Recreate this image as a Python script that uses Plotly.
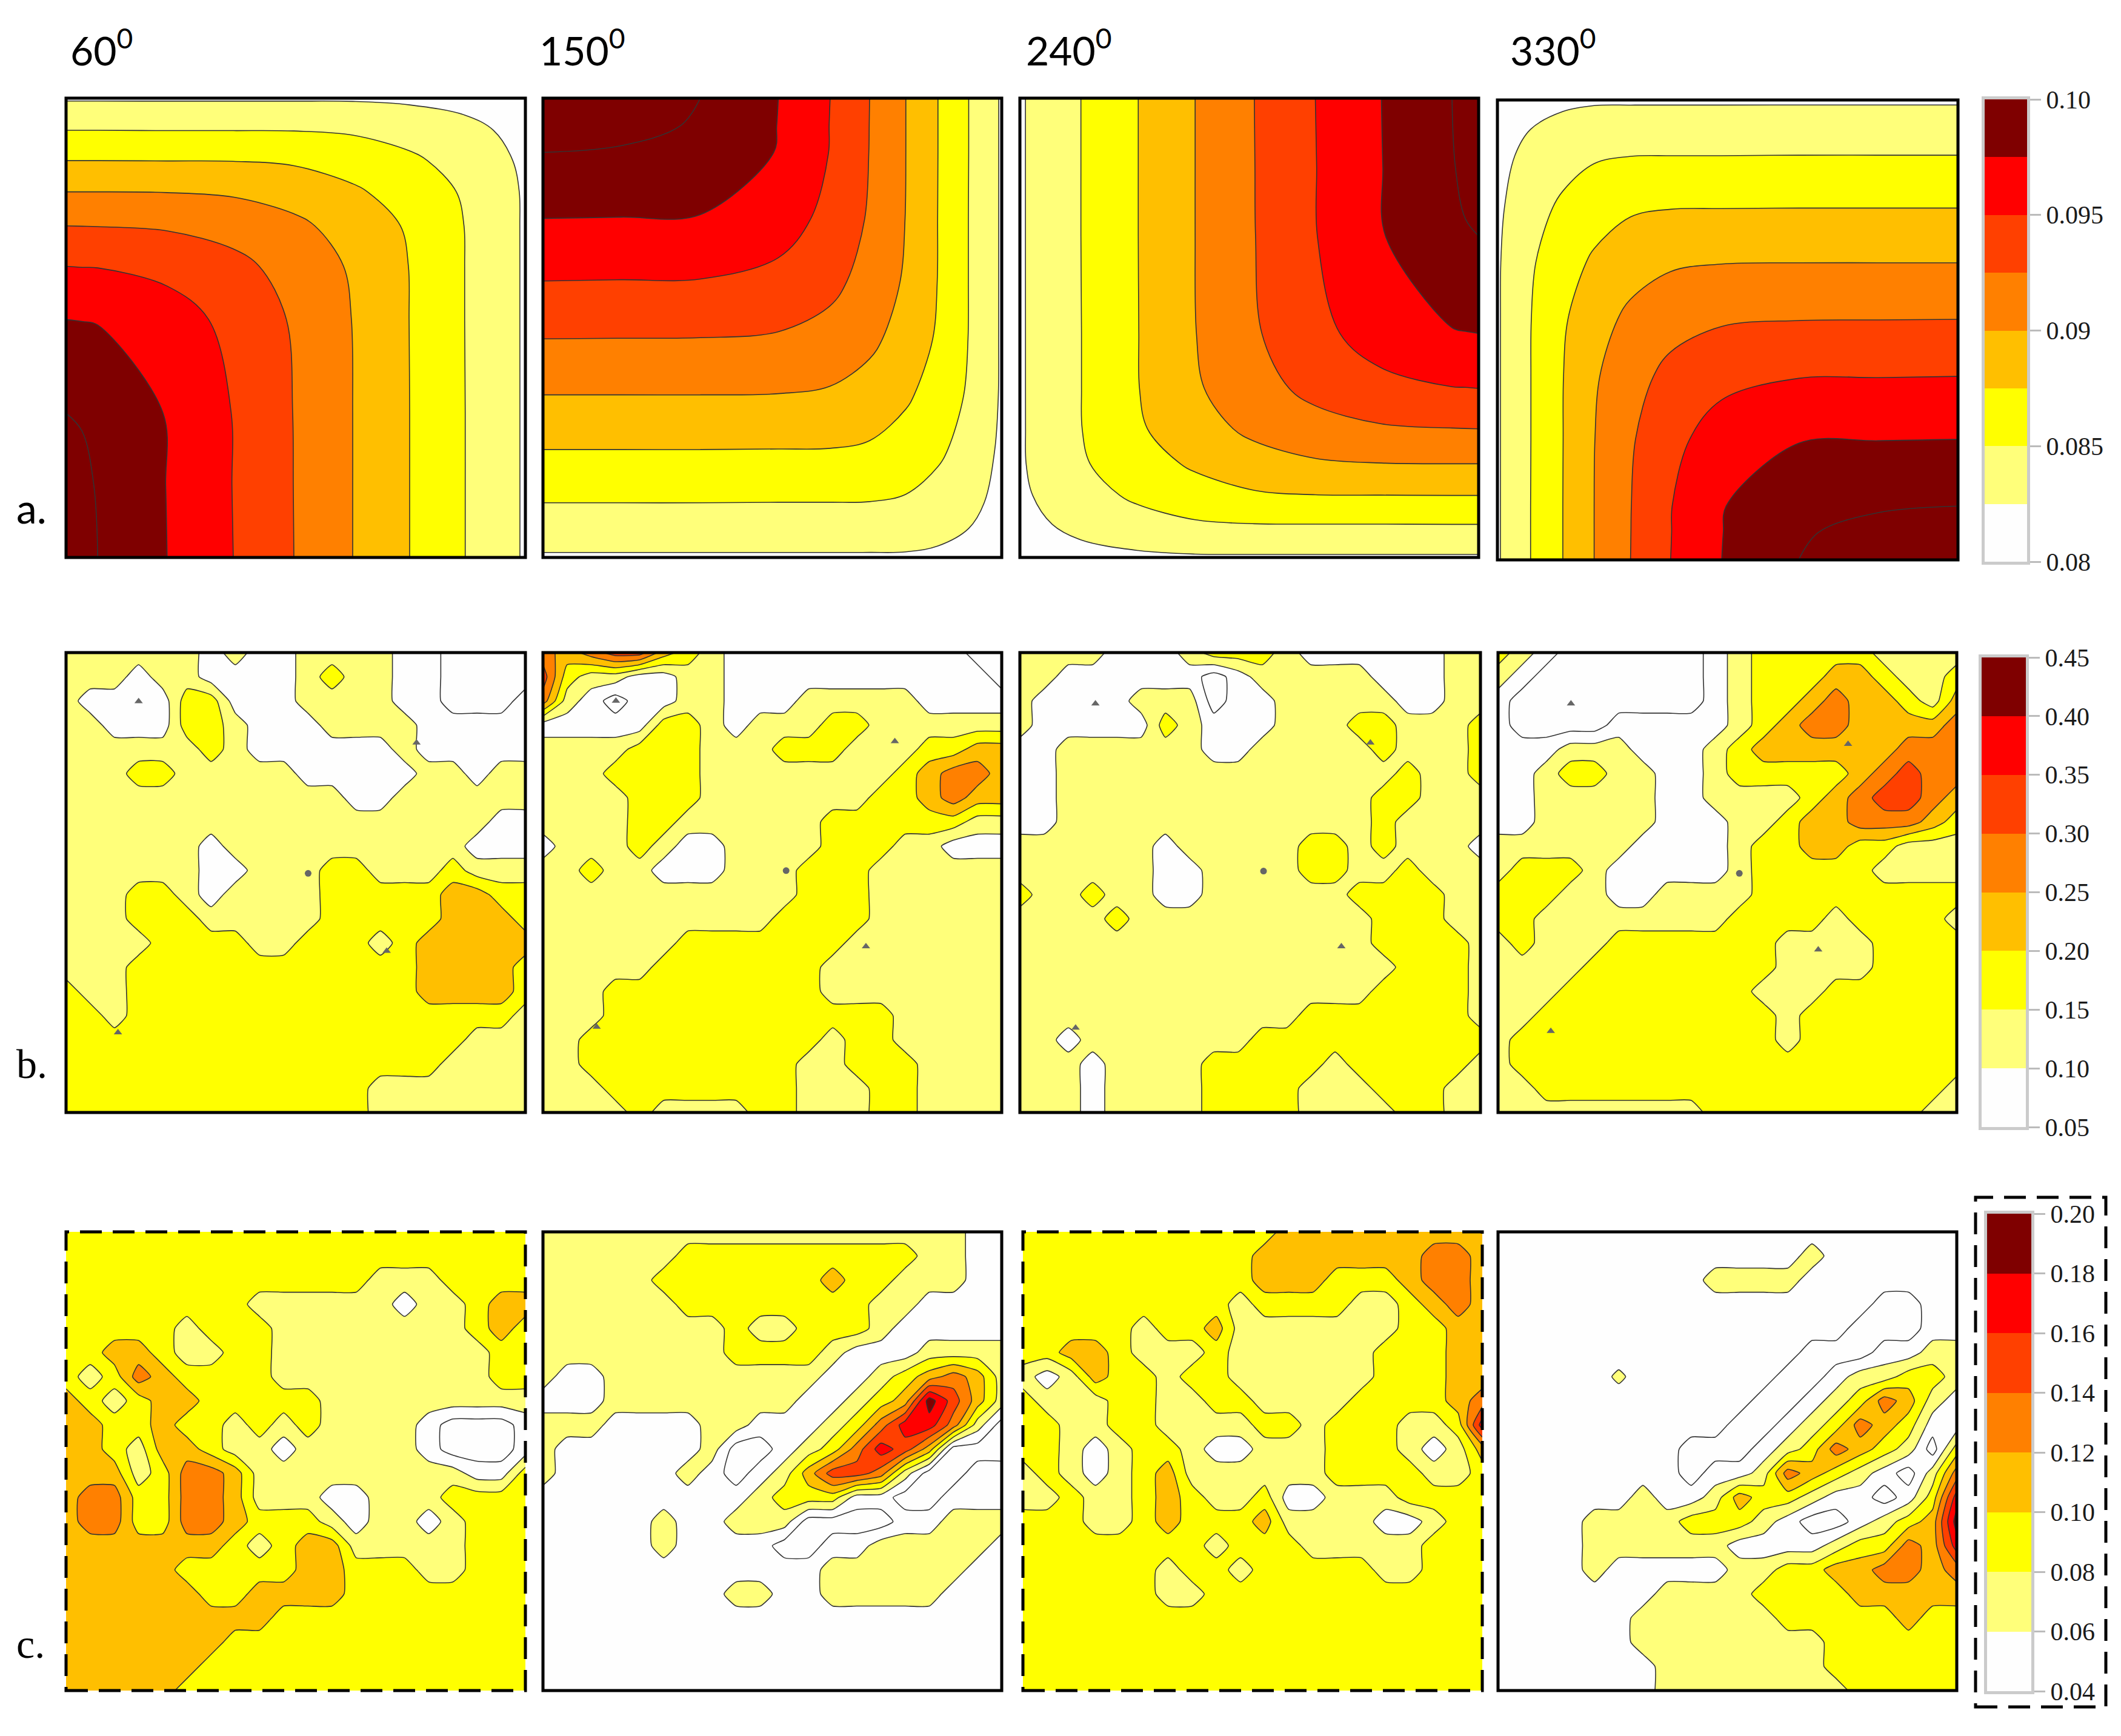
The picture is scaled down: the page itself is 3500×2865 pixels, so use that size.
import numpy as np
import plotly.graph_objects as go

WIDTH, HEIGHT = 3500, 2865

# filled bands, lowest to highest
BAND_COLORS = ["#FEFEFE", "#FFFF7A", "#FFFF00", "#FFBF00", "#FF8000", "#FF4000", "#FF0000", "#7F0000"]

HEADINGS = ["60<sup>0</sup>", "150<sup>0</sup>", "240<sup>0</sup>", "330<sup>0</sup>"]

# row a: level number reached, by distance from the hot corner (same family of curves in each panel)
a_surface = [
    [8.60, 8.30, 8.00, 7.00, 6.00, 5.00, 4.00, 3.00, 2.00, 0.90],
    [8.30, 8.15, 7.95, 6.98, 5.98, 4.99, 4.00, 3.00, 2.00, 0.90],
    [8.00, 7.95, 7.81, 6.95, 5.97, 4.98, 4.00, 3.00, 2.00, 0.90],
    [7.00, 6.98, 6.95, 6.49, 5.71, 4.90, 3.98, 2.99, 1.99, 0.90],
    [6.00, 5.98, 5.97, 5.71, 5.30, 4.60, 3.89, 2.98, 1.99, 0.90],
    [5.00, 4.99, 4.98, 4.90, 4.60, 4.21, 3.62, 2.88, 1.98, 0.90],
    [4.00, 4.00, 4.00, 3.98, 3.89, 3.62, 3.13, 2.63, 1.88, 0.90],
    [3.00, 3.00, 3.00, 2.99, 2.98, 2.88, 2.63, 2.17, 1.64, 0.83],
    [2.00, 2.00, 2.00, 1.99, 1.99, 1.98, 1.88, 1.64, 1.31, 0.65],
    [0.90, 0.90, 0.90, 0.90, 0.90, 0.90, 0.90, 0.83, 0.65, 0.20],
]
# where those levels sit in each panel (fraction across, fraction down)
a_60_x = [0, .035, .069, .22, .364, .496, .624, .748, .869, 1]
a_60_y = [1, .843, .686, .482, .366, .278, .204, .136, .07, 0]
a_150_x = [0, .17, .343, .513, .626, .712, .791, .861, .928, 1]
a_150_y = [0, .06, .118, .262, .398, .524, .646, .765, .881, 1]
a_240_x = [1, .971, .942, .788, .644, .511, .382, .258, .133, 0]
a_240_y = [0, .15, .30, .512, .632, .72, .796, .865, .928, 1]
a_330_x = [1, .827, .654, .487, .376, .289, .21, .142, .072, 0]
a_330_y = [1, .94, .883, .738, .601, .477, .354, .235, .12, 0]

# rows b and c: band at each grid node, 0 = below the lowest level
b_60 = [
    [2,2,2,2,2,2,1,2,1,1,2,2,2,2,1,1,0,0,0,0],
    [2,2,2,1,2,2,1,1,1,1,2,3,2,2,1,1,0,0,0,0],
    [2,1,1,1,1,3,3,1,1,1,2,2,2,2,1,1,0,0,0,1],
    [2,2,1,1,1,3,3,2,1,1,1,2,2,2,2,1,1,1,1,1],
    [2,2,2,2,2,2,3,2,1,1,1,1,1,1,2,1,1,1,1,1],
    [2,2,2,3,3,2,2,2,2,2,1,1,1,1,1,2,2,1,2,2],
    [2,2,2,2,2,2,2,2,2,2,2,2,1,1,2,2,2,2,2,2],
    [2,2,2,2,2,2,2,2,2,2,2,2,2,2,2,2,2,2,1,1],
    [2,2,2,2,2,2,1,2,2,2,2,2,2,2,2,2,2,1,1,1],
    [2,2,2,2,2,2,1,1,2,2,2,3,3,2,2,2,3,2,2,2],
    [2,2,2,3,3,2,1,2,2,2,2,3,3,3,3,3,4,4,3,3],
    [2,2,2,3,3,3,2,2,2,2,2,3,3,3,3,3,4,4,4,3],
    [2,2,2,2,3,3,3,3,2,2,3,3,3,2,3,4,4,4,4,4],
    [2,2,2,3,3,3,3,3,3,3,3,3,3,3,3,4,4,4,4,3],
    [3,2,2,3,3,3,3,3,3,3,3,3,3,3,3,4,4,4,4,3],
    [3,3,2,3,3,3,3,3,3,3,3,3,3,3,3,3,3,3,3,2],
    [3,3,3,3,3,3,3,3,3,3,3,3,3,3,3,3,3,2,2,2],
    [3,3,3,3,3,3,3,3,3,3,3,3,3,3,3,3,2,2,2,2],
    [3,3,3,3,3,3,3,3,3,3,3,3,3,2,2,2,2,2,2,2],
    [3,3,3,3,3,3,3,3,3,3,3,3,3,2,2,2,2,2,2,2],
]
b_150 = [
    [5,4,5,6,6,4,3,2,1,1,1,1,1,1,1,1,1,1,0,0],
    [6,3,2,2,1,1,2,2,1,1,1,1,1,1,1,1,1,1,1,0],
    [5,2,1,0,1,1,2,2,1,1,1,2,2,2,2,2,1,1,1,1],
    [1,1,1,1,1,3,3,2,1,2,2,2,3,3,2,2,2,2,2,2],
    [2,2,2,2,3,3,3,2,2,2,3,3,3,2,2,2,3,3,4,4],
    [2,2,2,3,3,3,3,2,2,2,2,2,2,2,2,3,4,5,5,4],
    [2,2,2,2,3,3,3,2,2,2,2,2,2,2,3,3,4,5,4,4],
    [2,2,2,2,3,3,2,2,2,2,2,2,3,3,3,3,3,3,2,2],
    [1,2,2,2,3,2,1,1,2,2,2,2,3,3,3,2,2,1,1,1],
    [2,2,3,2,2,1,1,1,2,2,2,3,3,3,2,2,2,2,2,2],
    [2,2,2,2,2,2,2,2,2,2,2,3,3,3,2,2,2,2,2,2],
    [2,2,2,2,2,2,2,2,2,2,3,3,3,3,2,2,2,2,2,2],
    [2,2,2,2,2,2,3,3,3,3,3,3,3,2,2,2,2,2,2,2],
    [2,2,2,2,2,3,3,3,3,3,3,3,2,2,2,2,2,2,2,2],
    [2,2,2,3,3,3,3,3,3,3,3,3,2,2,2,2,2,2,2,2],
    [2,2,2,3,3,3,3,3,3,3,3,3,3,3,3,2,2,2,2,2],
    [2,2,3,3,3,3,3,3,3,3,3,3,2,3,3,2,2,2,2,2],
    [2,2,3,3,3,3,3,3,3,3,3,2,2,3,3,3,2,2,2,2],
    [2,2,2,3,3,3,3,3,3,3,3,2,2,2,3,3,2,2,2,2],
    [2,2,2,2,3,2,2,2,2,3,3,2,2,2,3,3,2,2,2,2],
]
b_240 = [
    [2,2,2,2,1,1,1,2,3,3,3,2,1,1,1,1,1,1,2,2],
    [2,2,1,1,1,1,1,1,0,1,2,2,2,2,2,1,1,1,2,2],
    [2,1,1,1,1,2,2,2,0,1,1,2,2,2,2,2,1,1,2,2],
    [2,1,1,1,1,1,3,2,1,1,1,2,2,2,3,3,2,2,2,3],
    [1,1,2,2,2,2,2,2,1,1,2,2,2,2,2,3,2,2,2,3],
    [1,1,2,2,2,2,2,2,2,2,2,2,2,2,2,2,3,2,2,3],
    [1,1,2,2,2,2,2,2,2,2,2,2,2,2,2,3,3,2,2,2],
    [1,1,2,2,2,2,2,2,2,2,2,2,2,2,2,3,2,2,2,2],
    [2,2,2,2,2,2,1,2,2,2,2,2,3,3,2,3,2,2,2,1],
    [2,2,2,2,2,2,1,1,2,2,2,2,3,3,2,2,3,2,2,2],
    [3,2,2,3,2,2,1,1,2,2,2,2,2,2,3,3,3,3,2,2],
    [2,2,2,2,3,2,2,2,2,2,2,2,2,2,2,3,3,3,2,2],
    [2,2,2,2,2,2,2,2,2,2,2,2,2,2,2,3,3,3,3,2],
    [2,2,2,2,2,2,2,2,2,2,2,2,2,2,2,2,3,3,3,2],
    [2,2,2,2,2,2,2,2,2,2,2,2,2,2,2,3,3,3,3,2],
    [2,2,2,2,2,2,2,2,2,2,2,2,3,3,3,3,3,3,3,2],
    [2,2,1,2,2,2,2,2,2,2,3,3,3,3,3,3,3,3,3,3],
    [2,2,2,1,2,2,2,2,3,3,3,3,3,2,3,3,3,3,3,2],
    [2,2,2,1,2,2,2,2,3,3,3,3,2,2,2,3,3,3,2,2],
    [2,2,2,1,2,2,2,2,3,3,3,3,2,2,2,2,3,3,2,2],
]
b_330 = [
    [3,2,1,0,0,0,0,0,0,1,2,3,3,3,3,3,2,2,2,2],
    [2,1,0,0,0,0,0,0,0,1,2,3,3,3,4,4,3,2,2,3],
    [1,0,0,0,0,0,0,0,0,1,2,3,3,4,5,4,4,3,2,4],
    [1,0,0,0,0,1,1,1,1,1,2,3,4,5,5,4,4,4,4,5],
    [1,1,1,2,2,2,1,1,1,2,3,4,4,4,4,4,4,5,5,5],
    [1,1,2,3,3,2,2,1,1,2,3,3,3,3,3,4,5,6,5,5],
    [1,1,2,2,2,2,2,1,1,2,2,2,2,3,4,5,6,6,5,4],
    [1,1,2,2,2,2,2,1,1,1,2,2,3,4,4,5,5,5,4,3],
    [2,2,2,2,2,2,1,1,1,1,2,3,3,4,4,3,3,2,2,2],
    [2,3,3,3,2,1,1,1,1,1,2,3,3,3,3,3,2,2,2,2],
    [3,3,3,2,2,1,1,2,2,2,2,3,3,3,3,3,3,3,3,3],
    [3,3,2,2,2,2,2,2,2,2,3,3,3,3,2,3,3,3,3,2],
    [2,3,2,2,2,3,3,3,3,3,3,3,2,2,2,2,3,3,3,3],
    [2,2,2,2,3,3,3,3,3,3,3,3,2,2,2,2,3,3,3,3],
    [2,2,2,3,3,3,3,3,3,3,3,2,2,2,3,3,3,3,3,3],
    [2,2,3,3,3,3,3,3,3,3,3,3,2,3,3,3,3,3,3,3],
    [2,3,3,3,3,3,3,3,3,3,3,3,2,3,3,3,3,3,3,3],
    [2,3,3,3,3,3,3,3,3,3,3,3,3,3,3,3,3,3,3,3],
    [2,2,3,3,3,3,3,3,3,3,3,3,3,3,3,3,3,3,3,2],
    [2,2,2,2,2,2,2,2,2,3,3,3,3,3,3,3,3,3,2,2],
]
c_60 = [
    [3,3,3,3,3,3,3,3,3,3,3,3,3,3,3,3,3,3,3,3],
    [3,3,3,3,3,3,3,3,3,3,3,3,3,3,3,3,3,3,3,3],
    [3,3,3,3,3,3,3,3,3,3,3,3,3,2,2,2,3,3,3,3],
    [3,3,3,3,3,3,3,3,2,2,2,2,2,2,1,2,2,3,4,4],
    [3,3,3,3,3,2,3,3,3,2,2,2,2,2,2,2,2,3,4,3],
    [3,3,4,4,3,2,2,3,3,2,2,2,2,2,2,2,2,2,3,3],
    [3,2,3,5,4,3,3,3,3,2,2,2,2,2,2,2,2,2,3,3],
    [4,3,2,3,4,4,3,3,3,3,3,2,2,2,2,2,2,2,2,2],
    [4,4,3,3,4,3,3,2,3,2,3,2,2,2,2,1,0,0,0,1],
    [4,4,3,2,4,4,3,2,2,1,2,2,2,2,2,1,0,0,0,1],
    [4,4,4,2,3,5,5,4,2,2,2,2,2,2,2,2,2,1,1,3],
    [4,5,5,3,3,5,5,4,2,2,2,1,1,2,2,2,3,3,3,3],
    [4,5,5,3,3,5,5,4,3,3,3,2,1,2,2,1,2,3,3,3],
    [4,4,4,4,4,4,4,3,2,3,4,4,2,2,2,2,2,3,3,3],
    [4,4,4,4,4,3,3,3,3,3,4,4,3,3,3,2,2,3,3,3],
    [4,4,4,4,4,4,3,3,4,4,4,4,3,3,3,3,3,3,3,3],
    [4,4,4,4,4,4,4,4,4,3,3,3,3,3,3,3,3,3,3,3],
    [4,4,4,4,4,4,4,3,3,3,3,3,3,3,3,3,3,3,3,3],
    [4,4,4,4,4,4,3,3,3,3,3,3,3,3,3,3,3,3,3,3],
    [4,4,4,4,4,3,3,3,3,3,3,3,3,3,3,3,3,3,3,3],
]
c_150 = [
    [2,2,2,2,2,2,2,2,2,2,2,2,2,2,2,2,2,2,1,1],
    [2,2,2,2,2,2,3,3,3,3,3,3,3,3,3,3,2,2,1,1],
    [2,2,2,2,2,3,3,3,3,3,3,3,4,3,3,2,2,2,1,1],
    [2,2,2,2,2,2,3,3,3,3,3,3,3,3,2,2,1,1,1,1],
    [2,2,2,2,2,2,2,2,3,2,2,3,3,3,2,1,1,1,1,1],
    [2,2,2,2,2,2,2,2,3,3,3,3,2,1,1,1,2,2,2,2],
    [2,1,1,2,2,2,2,2,2,2,2,2,1,1,2,3,4,5,4,2],
    [1,1,1,2,2,2,2,2,2,2,2,1,1,2,3,4,8,6,4,2],
    [2,2,2,1,1,1,1,2,2,1,1,1,2,3,5,7,7,5,2,0],
    [2,1,1,1,1,1,1,2,0,0,1,2,3,5,7,6,4,0,0,0],
    [2,1,1,1,1,1,2,1,0,1,2,4,6,6,5,2,0,0,1,1],
    [1,1,1,1,1,1,1,1,1,2,3,3,3,1,1,0,0,1,1,1],
    [1,1,1,1,1,2,1,1,2,2,2,0,0,0,0,1,1,2,2,2],
    [1,1,1,1,1,2,1,1,1,1,0,0,1,1,2,2,2,2,2,1],
    [1,1,1,1,1,1,1,1,1,1,1,1,2,2,2,2,2,2,1,1],
    [1,1,1,1,1,1,1,1,2,2,1,1,2,2,2,2,2,1,1,1],
    [1,1,1,1,1,1,1,1,1,1,1,1,1,1,1,1,1,1,1,1],
    [1,1,1,1,1,1,1,1,1,1,1,1,1,1,1,1,1,1,1,1],
    [1,1,1,1,1,1,1,1,1,1,1,1,1,1,1,1,1,1,1,1],
    [1,1,1,1,1,1,1,1,1,1,1,1,1,1,1,1,1,1,1,1],
]
c_240 = [
    [3,3,3,3,3,3,3,3,3,3,3,4,4,4,4,4,4,4,4,4],
    [3,3,3,3,3,3,3,3,3,3,4,4,4,4,4,4,4,5,5,4],
    [3,3,3,3,3,3,3,3,3,3,4,4,4,3,3,3,4,5,5,4],
    [3,3,3,3,3,3,3,3,3,2,3,3,3,3,2,2,3,4,5,4],
    [3,3,3,3,3,2,3,3,4,2,2,2,2,2,2,2,3,3,4,4],
    [3,3,4,4,3,2,2,2,3,2,2,2,2,2,2,3,3,3,4,4],
    [2,1,2,4,3,3,2,3,3,2,2,2,2,2,2,3,3,3,4,4],
    [3,2,2,2,3,3,2,2,3,3,2,2,2,2,3,3,3,3,4,5],
    [3,3,2,2,3,3,2,2,2,2,3,3,2,3,3,3,2,2,3,7],
    [3,3,2,1,2,3,3,2,1,1,2,2,2,3,3,3,2,1,2,4],
    [2,3,2,1,2,3,4,2,2,2,2,2,2,3,3,3,3,2,2,3],
    [2,2,3,2,2,3,4,3,2,2,3,1,1,2,2,2,3,3,3,3],
    [3,3,3,2,2,3,4,3,3,3,4,2,2,2,2,1,1,2,3,3],
    [3,3,3,3,3,3,3,3,2,3,3,3,2,2,2,2,2,3,3,3],
    [3,3,3,3,3,3,2,3,3,2,3,3,3,3,3,2,2,3,3,3],
    [3,3,3,3,3,3,2,2,3,3,3,3,3,3,3,3,3,3,3,3],
    [3,3,3,3,3,3,3,3,3,3,3,3,3,3,3,3,3,3,3,3],
    [3,3,3,3,3,3,3,3,3,3,3,3,3,3,3,3,3,3,3,3],
    [3,3,3,3,3,3,3,3,3,3,3,3,3,3,3,3,3,3,3,3],
    [3,3,3,3,3,3,3,3,3,3,3,3,3,3,3,3,3,3,3,3],
]
c_330 = [
    [1,1,1,1,1,1,1,1,1,1,1,1,1,1,1,1,1,1,1,1],
    [1,1,1,1,1,1,1,1,1,1,1,1,1,2,1,1,1,1,1,1],
    [1,1,1,1,1,1,1,1,1,2,2,2,2,1,1,1,1,1,1,1],
    [1,1,1,1,1,1,1,1,1,1,1,1,1,1,1,1,0,0,1,1],
    [1,1,1,1,1,1,1,1,1,1,1,1,1,1,1,0,0,0,1,1],
    [1,1,1,1,1,1,1,1,1,1,1,1,1,0,0,0,1,1,2,2],
    [1,1,1,1,1,1.7,1,1,1,1,1,1,0,0,1,2,2,3,3,2],
    [1,1,1,1,1,1,1,1,1,1,1,0,0,1,2,3,5,4,2,1],
    [1,1,1,1,1,1,1,1,1,1,0,0,1,2,3,5,4,3,1,1],
    [1,1,1,1,1,1,1,1,0,0,0,1,2,3,5,4,3,2,0,3],
    [1,1,1,1,1,1,1,1,0,1,1,2,5,4,3,2,1,0,2,5],
    [1,1,1,1,1,1,2,1,1,2,4,3,3,2,1,1,0,1,3,7],
    [1,1,1,1,2,2,2,2,3,3,3,2,1,0,0,1,2,3,4,8],
    [1,1,1,1,2,2,2,2,2,2,1,1,1,1,2,3,3,5,4,7],
    [1,1,1,1,2,1,1,1,1,1,2,2,3,3,4,4,5,5,4,5],
    [1,1,1,1,1,1,1,2,2,2,2,3,3,3,3,4,4,4,4,4],
    [1,1,1,1,1,1,2,2,2,2,2,2,3,3,3,3,3,4,3,3],
    [1,1,1,1,1,1,2,2,2,2,2,2,2,2,3,3,3,3,3,3],
    [1,1,1,1,1,1,1,2,2,2,2,2,2,2,3,3,3,3,3,3],
    [1,1,1,1,1,1,1,2,2,2,2,2,2,2,2,3,3,3,3,3],
]

# station markers in row b, fraction across / down
b_tri_x = [[.158, .763, .698, .113], [.159, .767, .704, .117], [.164, .761, .698, .121], [.159, .763, .698, .115]]
b_tri_y = [[.106, .196, .649, .826], [.105, .193, .639, .814], [.111, .196, .639, .816], [.111, .199, .646, .823]]
b_dot_x = [.527, .53, .529, .526]
b_dot_y = [.48, .474, .475, .48]

a_start, a_end, a_step = 0.08, 0.10, 0.0025
b_start, b_end, b_step = 0.05, 0.45, 0.05
c_start, c_end, c_step = 0.04, 0.20, 0.02

a_ticks = [0.08, 0.085, 0.09, 0.095, 0.10]
a_ticktext = ["0.08", "0.085", "0.09", "0.095", "0.10"]
b_ticks = [0.05, 0.10, 0.15, 0.20, 0.25, 0.30, 0.35, 0.40, 0.45]
b_ticktext = ["0.05", "0.10", "0.15", "0.20", "0.25", "0.30", "0.35", "0.40", "0.45"]
c_ticks = [0.04, 0.06, 0.08, 0.10, 0.12, 0.14, 0.16, 0.18, 0.20]
c_ticktext = ["0.04", "0.06", "0.08", "0.10", "0.12", "0.14", "0.16", "0.18", "0.20"]

# frames in pixels: left, top, right, bottom
a_boxes = [(109, 162, 867, 920), (896, 162, 1653, 920), (1683, 162, 2440, 920), (2471, 165, 3231, 924)]
b_boxes = [(109, 1077, 867, 1836), (896, 1077, 1653, 1836), (1683, 1077, 2443, 1836), (2472, 1077, 3229, 1836)]
c_boxes = [(109, 2033, 867, 2790), (896, 2033, 1653, 2790), (1688, 2033, 2446, 2790), (2472, 2033, 3229, 2790)]
bar_boxes = [(3275, 164, 3345, 927), (3270, 1085, 3343, 1860), (3279, 2003, 3352, 2791)]


def px_x(p):
    return p / WIDTH


def px_y(p):
    return 1 - p / HEIGHT


band_scale = []
for i, col in enumerate(BAND_COLORS):
    band_scale += [[i / 8, col], [(i + 1) / 8, col]]

fig = go.Figure()
axis_no = 0


def add_axes(box):
    global axis_no
    axis_no += 1
    n = "" if axis_no == 1 else str(axis_no)
    fig.update_layout(**{
        "xaxis" + n: dict(domain=[px_x(box[0]), px_x(box[2])], range=[0, 1], visible=False, automargin=False, anchor="y" + n),
        "yaxis" + n: dict(domain=[px_y(box[3]), px_y(box[1])], range=[1, 0], visible=False, automargin=False, anchor="x" + n),
    })
    return n


def add_panel(box, x, y, z, start, end, step, smooth=0.0, dashed=False):
    n = add_axes(box)
    fig.add_trace(go.Contour(
        x=x, y=y, z=z, xaxis="x" + n, yaxis="y" + n,
        autocontour=False, zmin=start, zmax=end,
        contours=dict(start=start, end=end, size=step, coloring="fill"),
        colorscale=band_scale, showscale=False, hoverinfo="skip",
        line=dict(color="#333333", width=1.6, smoothing=smooth),
    ))
    fig.add_shape(type="rect", xref="x%s domain" % n, yref="y%s domain" % n, x0=0, x1=1, y0=0, y1=1,
                  line=dict(color="black", width=5, dash="36px,18px" if dashed else "solid"))
    return n


def from_bands(grid, start, step):
    return start + (np.array(grid, dtype=float) - 0.5) * step


# row a
a_table = np.array(a_surface)
for box, xs, ys in zip(a_boxes, [a_60_x, a_150_x, a_240_x, a_330_x], [a_60_y, a_150_y, a_240_y, a_330_y]):
    xs, ys = np.array(xs), np.array(ys)
    ox, oy = np.argsort(xs), np.argsort(ys)
    z = a_start + a_table[np.ix_(oy, ox)] * a_step
    add_panel(box, xs[ox], ys[oy], z, a_start, a_end, a_step, smooth=1.0)

grid = np.linspace(0, 1, 20)

# row b
for k, (box, g) in enumerate(zip(b_boxes, [b_60, b_150, b_240, b_330])):
    n = add_panel(box, grid, grid, from_bands(g, b_start, b_step), b_start, b_end, b_step, smooth=0.5)
    fig.add_trace(go.Scatter(x=b_tri_x[k], y=b_tri_y[k], mode="markers", xaxis="x" + n, yaxis="y" + n,
                             marker=dict(symbol="triangle-up", size=12, color="#666666"),
                             showlegend=False, hoverinfo="skip"))
    fig.add_trace(go.Scatter(x=[b_dot_x[k]], y=[b_dot_y[k]], mode="markers", xaxis="x" + n, yaxis="y" + n,
                             marker=dict(symbol="circle", size=11, color="#666666"),
                             showlegend=False, hoverinfo="skip"))

# row c, the first and third frames are dashed
for k, (box, g) in enumerate(zip(c_boxes, [c_60, c_150, c_240, c_330])):
    add_panel(box, grid, grid, from_bands(g, c_start, c_step), c_start, c_end, c_step, smooth=0.5, dashed=k in (0, 2))

# colour keys
for box, start, end, step, ticks, ticktext in [
    (bar_boxes[0], a_start, a_end, a_step, a_ticks, a_ticktext),
    (bar_boxes[1], b_start, b_end, b_step, b_ticks, b_ticktext),
    (bar_boxes[2], c_start, c_end, c_step, c_ticks, c_ticktext),
]:
    n = add_axes(box)
    mids = [start + (i + 0.5) * step for i in range(8)]
    fig.add_trace(go.Heatmap(x=[0], y=mids, z=[[m] for m in mids], xaxis="x" + n, yaxis="y" + n,
                             zmin=start, zmax=end, colorscale=band_scale, showscale=False, hoverinfo="skip"))
    edge = "rgba(140,140,140,0.45)"
    fig.update_layout(**{
        "xaxis" + n: dict(domain=[px_x(box[0]), px_x(box[2])], range=[-0.5, 0.5], visible=True, showgrid=False,
                          zeroline=False, showticklabels=False, ticks="", showline=True, mirror=True,
                          linecolor=edge, linewidth=5, automargin=False, anchor="y" + n),
        "yaxis" + n: dict(domain=[px_y(box[3]), px_y(box[1])], range=[start, end], visible=True, side="right",
                          showgrid=False, zeroline=False, tickmode="array", tickvals=ticks, ticktext=ticktext,
                          ticks="outside", ticklen=18, tickwidth=3, tickcolor="#bbbbbb",
                          tickfont=dict(family="Liberation Serif", size=42, color="#1a1a1a"),
                          showline=True, mirror=True, linecolor=edge, linewidth=5, automargin=False, anchor="x" + n),
    })

fig.add_shape(type="rect", xref="paper", yref="paper", x0=px_x(3260), x1=px_x(3475), y0=px_y(2817), y1=px_y(1976),
              line=dict(color="black", width=5, dash="36px,18px"))

# headings and row letters
for text, px in zip(HEADINGS, [114, 888, 1691, 2490]):
    fig.add_annotation(text=text, xref="paper", yref="paper", x=px_x(px), y=px_y(78), xanchor="left", yanchor="middle",
                       showarrow=False, font=dict(family="Lato", size=66, color="black"))
for text, family, py in [("a.", "Lato", 838), ("b.", "Liberation Serif", 1756), ("c.", "Liberation Serif", 2713)]:
    fig.add_annotation(text=text, xref="paper", yref="paper", x=px_x(25), y=px_y(py), xanchor="left", yanchor="middle",
                       showarrow=False, font=dict(family=family, size=68, color="black"))

fig.update_layout(width=WIDTH, height=HEIGHT, margin=dict(l=0, r=0, t=0, b=0), showlegend=False,
                  paper_bgcolor="white", plot_bgcolor="white")
fig.write_html("out.html", config={"displayModeBar": False},
               post_script="document.body.style.margin='0';document.body.style.overflow='hidden';")
